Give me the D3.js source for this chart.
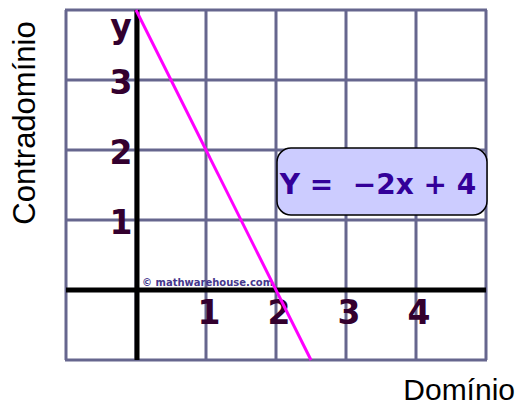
<!DOCTYPE html>
<html>
<head>
<meta charset="utf-8">
<script src="https://cdn.jsdelivr.net/npm/d3@7"></script>
<style>
  body { margin: 0; background: #fff; }
  svg { display: block; }
</style>
</head>
<body>
<div id="chart"></div>
<script>
// Data
const gridX = [-1, 0, 1, 2, 3, 4, 5];
const gridY = [-1, 0, 1, 2, 3, 4];
const xTicks = [1, 2, 3, 4];
const yTicks = [1, 2, 3];
// y = -2x + 4, drawn from the y-intercept down to the bottom edge
const lineX = [0, 2.5];
const lineY = [4, -1];
const equation = "Y =  \u22122x + 4";

const W = 521, H = 405;

const svg = d3.select("#chart")
    .append("svg")
    .attr("width", W)
    .attr("height", H);

svg.append("rect").attr("width", W).attr("height", H).attr("fill", "#fff");

const x = d3.scaleLinear().domain([-1, 5]).range([66, 486]);
const y = d3.scaleLinear().domain([-1, 4]).range([360, 10]);

// Grid
svg.selectAll(".gx")
    .data(gridX)
    .enter()
    .append("line")
    .attr("x1", d => x(d)).attr("x2", d => x(d))
    .attr("y1", y(4)).attr("y2", y(-1))
    .attr("stroke", "#66668e")
    .attr("stroke-width", 3);

svg.selectAll(".gy")
    .data(gridY)
    .enter()
    .append("line")
    .attr("y1", d => y(d)).attr("y2", d => y(d))
    .attr("x1", x(-1) - 1).attr("x2", x(5) + 1)
    .attr("stroke", "#66668e")
    .attr("stroke-width", 3);

// Axes
svg.append("line")
    .attr("x1", x(-1)).attr("x2", x(5))
    .attr("y1", y(0)).attr("y2", y(0))
    .attr("stroke", "#000").attr("stroke-width", 5);
svg.append("line")
    .attr("x1", x(0) + 1).attr("x2", x(0) + 1)
    .attr("y1", y(4)).attr("y2", y(-1))
    .attr("stroke", "#000").attr("stroke-width", 5);

// Watermark
svg.append("text")
    .attr("x", x(0) + 6)
    .attr("y", y(0) - 4)
    .attr("font-family", "Verdana, 'DejaVu Sans', sans-serif")
    .attr("font-weight", "bold")
    .attr("font-size", 10)
    .attr("fill", "#45378c")
    .text("\u00a9 mathwarehouse.com");

// Tick labels
const tickFont = "'DejaVu Sans', Verdana, sans-serif";
svg.selectAll(".xt")
    .data(xTicks)
    .enter()
    .append("text")
    .attr("x", d => x(d) + 3)
    .attr("y", y(0) + 22)
    .attr("text-anchor", "middle")
    .attr("dominant-baseline", "central")
    .attr("font-family", tickFont)
    .attr("font-weight", "bold")
    .attr("font-size", 33)
    .attr("fill", "#33002e")
    .text(d => d);

svg.selectAll(".yt")
    .data(yTicks)
    .enter()
    .append("text")
    .attr("x", x(0) - 15)
    .attr("y", d => y(d) + 2)
    .attr("text-anchor", "middle")
    .attr("dominant-baseline", "central")
    .attr("font-family", tickFont)
    .attr("font-weight", "bold")
    .attr("font-size", 33)
    .attr("fill", "#33002e")
    .text(d => d);

svg.append("text")
    .attr("x", x(0) - 15)
    .attr("y", 26)
    .attr("text-anchor", "middle")
    .attr("dominant-baseline", "central")
    .attr("font-family", tickFont)
    .attr("font-weight", "bold")
    .attr("font-size", 33)
    .attr("fill", "#33002e")
    .text("y");

// The line
const pts = lineX.map((v, i) => [v, lineY[i]]);
svg.append("path")
    .datum(pts)
    .attr("d", d3.line().x(d => x(d[0])).y(d => y(d[1])))
    .attr("fill", "none")
    .attr("stroke", "#ff00ff")
    .attr("stroke-width", 3);

// Equation box
const box = svg.append("g");
box.append("rect")
    .attr("x", 277).attr("y", 148)
    .attr("width", 210).attr("height", 67)
    .attr("rx", 14)
    .attr("fill", "#ccccff")
    .attr("stroke", "#000")
    .attr("stroke-width", 1.5);
box.append("text")
    .attr("x", 378).attr("y", 184)
    .attr("text-anchor", "middle")
    .attr("dominant-baseline", "central")
    .attr("font-family", tickFont)
    .attr("font-weight", "bold")
    .attr("font-size", 28)
    .attr("fill", "#330099")
    .attr("xml:space", "preserve")
    .style("white-space", "pre")
    .text(equation);

// Axis titles
svg.append("text")
    .attr("x", 515)
    .attr("y", 400)
    .attr("text-anchor", "end")
    .attr("font-family", "'Liberation Sans', Arial, sans-serif")
    .attr("font-size", 30)
    .attr("fill", "#000")
    .text("Domínio");

svg.append("text")
    .attr("transform", "translate(35,123) rotate(-90)")
    .attr("text-anchor", "middle")
    .attr("font-family", "'Liberation Sans', Arial, sans-serif")
    .attr("font-size", 31)
    .attr("fill", "#000")
    .text("Contradomínio");
</script>
</body>
</html>
